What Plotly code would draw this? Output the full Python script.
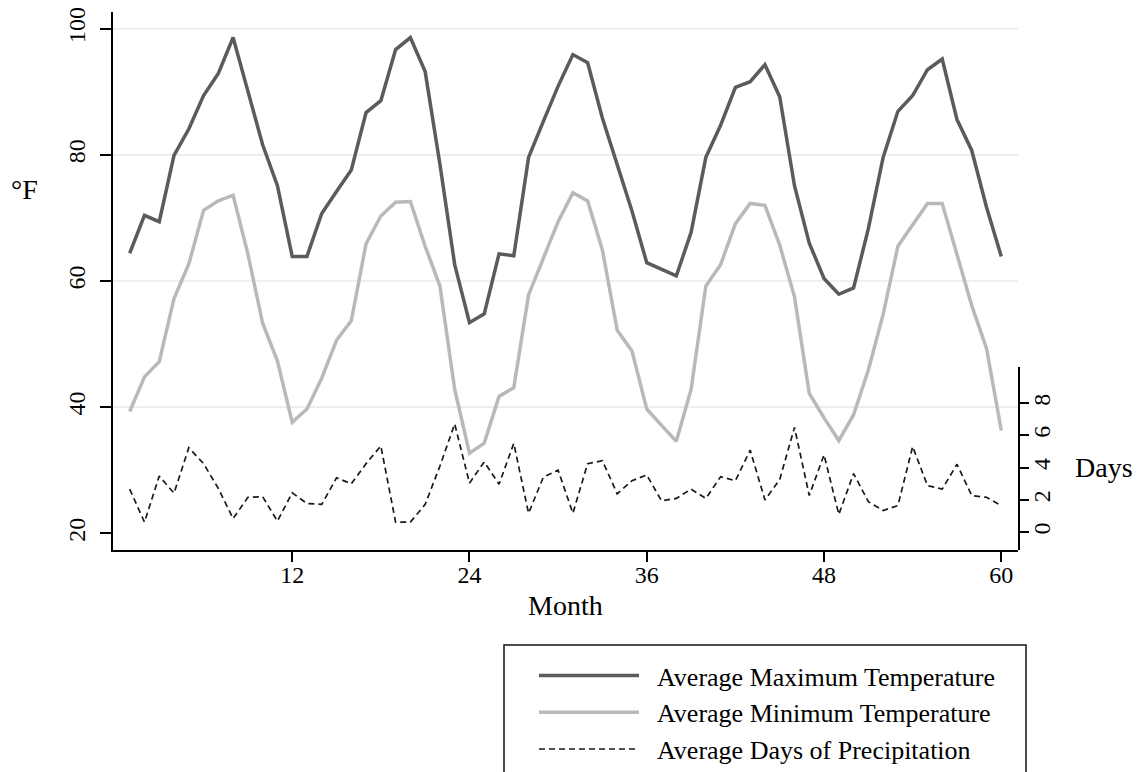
import plotly.graph_objects as go

months = list(range(1, 61))
max_temp = [64.4, 70.4, 69.4, 79.9, 84.1, 89.4, 92.9, 98.6, 90.1, 81.6,
            75.1, 63.9, 63.9, 70.7, 74.2, 77.6, 86.7, 88.6, 96.7, 98.6,
            93.2, 78.5, 62.6, 53.4, 54.8, 64.3, 64.0, 79.6, 85.3, 90.9,
            95.9, 94.6, 85.8, 78.5, 71.1, 62.9, 61.9, 60.8, 67.7, 79.6,
            84.7, 90.7, 91.6, 94.3, 89.2, 75.1, 66.0, 60.4, 57.9, 58.9,
            68.3, 79.6, 86.9, 89.4, 93.5, 95.2, 85.6, 80.7, 71.7, 63.9]
min_temp = [39.3, 44.8, 47.2, 57.2, 62.7, 71.2, 72.7, 73.6, 64.3, 53.3,
            47.3, 37.6, 39.7, 44.6, 50.6, 53.7, 65.9, 70.3, 72.5, 72.6,
            65.5, 59.2, 42.8, 32.7, 34.3, 41.7, 43.1, 57.8, 63.6, 69.4,
            74.0, 72.7, 64.9, 52.2, 48.9, 39.7, 37.1, 34.6, 42.8, 59.2,
            62.6, 69.1, 72.3, 72.0, 65.7, 57.5, 42.2, 38.3, 34.7, 38.8,
            45.9, 54.7, 65.5, 68.9, 72.3, 72.3, 64.3, 56.1, 49.3, 36.3]
precip_days = [2.67, 0.62, 3.48, 2.42, 5.24, 4.25, 2.71, 0.84, 2.16, 2.20,
               0.68, 2.44, 1.78, 1.72, 3.37, 3.00, 4.25, 5.35, 0.62, 0.62,
               1.72, 4.10, 6.72, 3.04, 4.36, 2.97, 5.51, 1.17, 3.41, 3.85,
               1.17, 4.25, 4.43, 2.38, 3.19, 3.55, 1.94, 2.09, 2.67, 2.09,
               3.44, 3.19, 5.09, 2.00, 3.26, 6.50, 2.27, 4.80, 1.10, 3.63,
               1.89, 1.34, 1.65, 5.31, 2.89, 2.67, 4.21, 2.27, 2.16, 1.65]

x_ticks = [12, 24, 36, 48, 60]
temp_ticks = [20, 40, 60, 80, 100]
grid_vals = [40, 60, 80, 100]
day_ticks = [0, 2, 4, 6, 8]

W, H = 1146, 772
OFF = 8  # page body margin offset of the figure within the screenshot
# target plot area in screenshot pixels: x 113..1018, y 12..550
L = 113 - OFF
T = 12 - OFF
R = W - (1018 - OFF)
B = H - (550 - OFF)
PW, PH = W - L - R, H - T - B
FONT = "Liberation Serif, Times New Roman, serif"
NB = "\u00a0\u00a0"


def px(xs):
    return (xs - OFF - L) / PW


def py(ys):
    return (H - B - (ys - OFF)) / PH


fig = go.Figure()
fig.add_trace(go.Scatter(x=months, y=max_temp, mode="lines",
                         name=NB + "Average Maximum Temperature",
                         line=dict(color="#5b5b5b", width=3.5)))
fig.add_trace(go.Scatter(x=months, y=min_temp, mode="lines",
                         name=NB + "Average Minimum Temperature",
                         line=dict(color="#b9b9b9", width=3.5)))
fig.add_trace(go.Scatter(x=months, y=precip_days, mode="lines", yaxis="y2",
                         name=NB + "Average Days of Precipitation",
                         line=dict(color="#1a1a1a", width=1.7, dash="6px,4px")))

shapes = []
for v in grid_vals:
    shapes.append(dict(type="line", xref="paper", yref="y", x0=0, x1=1, y0=v, y1=v,
                       line=dict(color="#ebebeb", width=1.6), layer="below"))
shapes.append(dict(type="rect", xref="paper", yref="paper",
                   x0=px(504), x1=px(1026), y0=py(645), y1=py(820),
                   line=dict(color="#111111", width=1.5)))

axis_common = dict(showline=True, linecolor="black", linewidth=2, ticks="outside",
                   tickwidth=2, tickcolor="black", showgrid=False, zeroline=False,
                   automargin=False, ticklabeloverflow="allow",
                   tickfont=dict(family=FONT, size=24, color="black"))

fig.update_layout(
    template="none",
    width=W, height=H,
    margin=dict(l=L, r=R, t=T, b=B, pad=0, autoexpand=False),
    paper_bgcolor="white", plot_bgcolor="rgba(0,0,0,0)",
    font=dict(family=FONT, color="black"),
    xaxis=dict(range=[-0.13, 61.13], tickvals=x_ticks, ticklen=10, anchor="y",
               ticklabelstandoff=-8, **axis_common),
    yaxis=dict(range=[17.35, 102.65], tickvals=temp_ticks, tickangle=-90, ticklen=11,
               domain=[0, 1], anchor="x", ticklabelstandoff=5, **axis_common),
    yaxis2=dict(range=[-1.11, 10.23], tickvals=day_ticks, tickangle=-90, ticklen=9,
                domain=[0, py(367.3)], anchor="x", side="right", ticklabelstandoff=-8,
                **axis_common),
    shapes=shapes,
    showlegend=True,
    legend=dict(x=px(534), y=py(652), xanchor="left", yanchor="top",
                bgcolor="rgba(0,0,0,0)", borderwidth=0, itemwidth=100,
                font=dict(family=FONT, size=26, color="black"),
                tracegroupgap=0),
    annotations=[
        dict(text="°F", xref="paper", yref="paper", x=px(24), y=py(189),
             xanchor="center", yanchor="middle",
             showarrow=False, font=dict(family=FONT, size=28, color="black")),
        dict(text="Month", xref="paper", yref="paper", x=px(565.5), y=py(605),
             xanchor="center", yanchor="middle",
             showarrow=False, font=dict(family=FONT, size=28, color="black")),
        dict(text="Days", xref="paper", yref="paper", x=px(1104), y=py(467),
             xanchor="center", yanchor="middle",
             showarrow=False, font=dict(family=FONT, size=28, color="black")),
    ],
)

fig.write_html("out.html")
